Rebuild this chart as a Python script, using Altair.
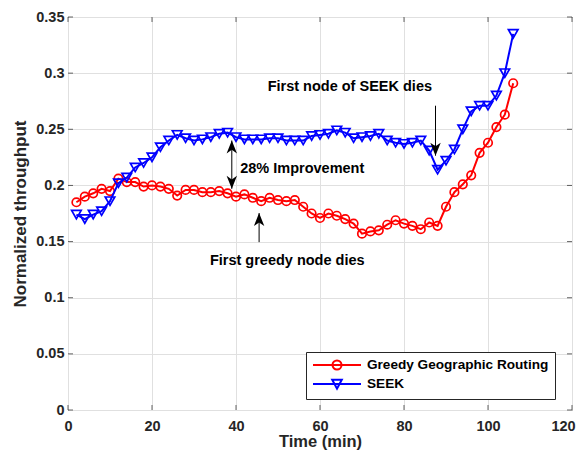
import altair as alt
import pandas as pd

# ---------------- data ----------------
time_min = [2, 4, 6, 8, 10, 12, 14, 16, 18, 20,
            22, 24, 26, 28, 30, 32, 34, 36, 38, 40,
            42, 44, 46, 48, 50, 52, 54, 56, 58, 60,
            62, 64, 66, 68, 70, 72, 74, 76, 78, 80,
            82, 84, 86, 88, 90, 92, 94, 96, 98, 100,
            102, 104, 106]

greedy = [0.185, 0.190, 0.193, 0.197, 0.195, 0.206, 0.203, 0.203, 0.199, 0.200,
          0.199, 0.197, 0.191, 0.196, 0.196, 0.194, 0.194, 0.195, 0.193, 0.190,
          0.192, 0.189, 0.186, 0.189, 0.187, 0.186, 0.187, 0.181, 0.175, 0.171,
          0.175, 0.173, 0.170, 0.166, 0.157, 0.159, 0.160, 0.165, 0.169, 0.166,
          0.164, 0.161, 0.167, 0.164, 0.181, 0.194, 0.201, 0.209, 0.229, 0.238,
          0.252, 0.263, 0.291]

seek = [0.174, 0.170, 0.174, 0.177, 0.186, 0.202, 0.207, 0.216, 0.220, 0.225,
        0.234, 0.240, 0.245, 0.242, 0.240, 0.241, 0.243, 0.246, 0.247, 0.243,
        0.241, 0.241, 0.241, 0.242, 0.242, 0.240, 0.240, 0.240, 0.244, 0.245,
        0.246, 0.249, 0.247, 0.242, 0.243, 0.244, 0.246, 0.240, 0.238, 0.237,
        0.238, 0.240, 0.231, 0.214, 0.222, 0.232, 0.250, 0.266, 0.271, 0.271,
        0.280, 0.300, 0.335]

series_names = ["Greedy Geographic Routing", "SEEK"]
series_colors = ["#ff0000", "#0000ff"]

x_ticks = [0, 20, 40, 60, 80, 100, 120]
y_ticks = [0, 0.05, 0.1, 0.15, 0.2, 0.25, 0.3, 0.35]

ann_text = ["First node of SEEK dies", "28% Improvement", "First greedy node dies"]
ann_x = [67.1, 41.0, 52.2]
ann_y = [0.2877, 0.2146, 0.1327]
ann_align = ["center", "left", "center"]

shaft_x = [87.5, 39.0, 45.5]
shaft_y1 = [0.271, 0.197, 0.1495]
shaft_y2 = [0.2265, 0.240, 0.1754]

head_down_x = [87.5, 39.0]
head_down_y = [0.2265, 0.197]
head_up_x = [39.0, 45.5]
head_up_y = [0.240, 0.1754]

# ---------------- tables ----------------
df = pd.DataFrame({
    "time": time_min * 2,
    "value": greedy + seek,
    "series": [series_names[0]] * len(time_min) + [series_names[1]] * len(time_min),
})
ann_df = pd.DataFrame({"x": ann_x, "y": ann_y, "text": ann_text, "align": ann_align})
shaft_df = pd.DataFrame({"x": shaft_x, "y1": shaft_y1, "y2": shaft_y2})
hd_df = pd.DataFrame({"x": head_down_x, "y": head_down_y})
hu_df = pd.DataFrame({"x": head_up_x, "y": head_up_y})
xt_df = pd.DataFrame({"t": x_ticks})
yt_df = pd.DataFrame({"t": y_ticks})

FONT = "Liberation Sans"
AX = "#262626"
GRID = "#e0e0e0"

xscale = alt.Scale(domain=[0, 120], nice=False, zero=False)
yscale = alt.Scale(domain=[0, 0.35], nice=False, zero=False)

x_axis = alt.Axis(values=x_ticks, title="Time (min)", format="d",
                  labelFont=FONT, labelFontSize=14.5, labelFontWeight="bold", labelColor=AX,
                  titleFont=FONT, titleFontSize=16.5, titleFontWeight="bold", titleColor=AX,
                  tickSize=0, domain=False, grid=True, gridColor=GRID, gridWidth=1,
                  labelPadding=9, titlePadding=1, labelFlush=False,
                  labelOffset={"condition": {"test": "datum.value == 120", "value": -9}, "value": 0})
y_axis = alt.Axis(values=y_ticks, title="Normalized throughput", format=".2~f",
                  labelFont=FONT, labelFontSize=14.5, labelFontWeight="bold", labelColor=AX,
                  titleFont=FONT, titleFontSize=17, titleFontWeight="bold", titleColor=AX,
                  tickSize=0, domain=False, grid=True, gridColor=GRID, gridWidth=1,
                  labelPadding=4, titlePadding=6, labelFlush=False)

base = alt.Chart(df).encode(
    x=alt.X("time:Q", scale=xscale, axis=x_axis),
    y=alt.Y("value:Q", scale=yscale, axis=y_axis),
)

layers = []
shapes = ["circle", "triangle-down"]
sizes = [72, 92]
for name, col, shp, sz in zip(series_names, series_colors, shapes, sizes):
    sub = base.transform_filter(alt.datum.series == name)
    layers.append(sub.mark_line(color=col, strokeWidth=2))
    layers.append(sub.mark_point(shape=shp, size=sz, filled=False, color=col,
                                 strokeWidth=1.7, opacity=1))

# legend (built by Vega-Lite from scales, with line+marker symbols)
leg_circle = "M -1 0 L 7 0 M 3.75 0 A 0.75 0.75 0 1 1 2.25 0 A 0.75 0.75 0 1 1 3.75 0"
leg_tri = "M -1 0 L 7 0 M 2.2 -0.72 L 3.8 -0.72 L 3 0.78 Z"
legend_layer = alt.Chart(df).transform_filter("false").mark_point(
    filled=False, size=144, strokeWidth=2, opacity=1
).encode(
    color=alt.Color("series:N", scale=alt.Scale(domain=series_names, range=series_colors),
                    legend=alt.Legend(title=None)),
    shape=alt.Shape("series:N", scale=alt.Scale(domain=series_names, range=[leg_circle, leg_tri]),
                    legend=alt.Legend(title=None)),
)

# inward ticks
tick_b = alt.Chart(xt_df).mark_tick(orient="vertical", size=5, thickness=1, color=AX, yOffset=-2.5).encode(
    x=alt.X("t:Q", scale=xscale, axis=x_axis), y=alt.datum(0))
tick_t = alt.Chart(xt_df).mark_tick(orient="vertical", size=5, thickness=1, color=AX, yOffset=2.5).encode(
    x=alt.X("t:Q", scale=xscale, axis=x_axis), y=alt.datum(0.35))
tick_l = alt.Chart(yt_df).mark_tick(orient="horizontal", size=5, thickness=1, color=AX, xOffset=2.5).encode(
    y=alt.Y("t:Q", scale=yscale, axis=y_axis), x=alt.datum(0))
tick_r = alt.Chart(yt_df).mark_tick(orient="horizontal", size=5, thickness=1, color=AX, xOffset=-2.5).encode(
    y=alt.Y("t:Q", scale=yscale, axis=y_axis), x=alt.datum(120))

# annotations
ann_layers = []
for al in ["center", "left"]:
    ann_layers.append(
        alt.Chart(ann_df).transform_filter(alt.datum.align == al).mark_text(
            font=FONT, fontSize=14.5, fontWeight="bold", color="black",
            baseline="middle", align=al
        ).encode(
            x=alt.X("x:Q", scale=xscale, axis=x_axis),
            y=alt.Y("y:Q", scale=yscale, axis=y_axis),
            text="text:N",
        )
    )
shafts = alt.Chart(shaft_df).mark_rule(color="black", strokeWidth=1).encode(
    x=alt.X("x:Q", scale=xscale, axis=x_axis),
    y=alt.Y("y1:Q", scale=yscale, axis=y_axis),
    y2="y2:Q",
)
head_down_path = "M 0 0 L -0.4 -1 L 0 -0.72 L 0.4 -1 Z"
head_up_path = "M 0 0 L -0.4 1 L 0 0.72 L 0.4 1 Z"
heads_d = alt.Chart(hd_df).mark_point(shape=head_down_path, size=676, filled=True, color="black",
                                      opacity=1, strokeWidth=0).encode(
    x=alt.X("x:Q", scale=xscale, axis=x_axis), y=alt.Y("y:Q", scale=yscale, axis=y_axis))
heads_u = alt.Chart(hu_df).mark_point(shape=head_up_path, size=676, filled=True, color="black",
                                      opacity=1, strokeWidth=0).encode(
    x=alt.X("x:Q", scale=xscale, axis=x_axis), y=alt.Y("y:Q", scale=yscale, axis=y_axis))

chart = alt.layer(
    *layers, shafts, heads_d, heads_u, *ann_layers, tick_b, tick_t, tick_l, tick_r, legend_layer
).properties(
    width=504, height=393,
    autosize=alt.AutoSizeParams(type="none"),
    padding={"left": 60, "top": 9, "right": 4, "bottom": 41},
    background="white",
).configure_view(
    stroke=AX, strokeWidth=1
).configure_legend(
    orient="none", legendX=238, legendY=335,
    strokeColor=AX, fillColor="white", padding=6, cornerRadius=0,
    symbolSize=144, symbolStrokeWidth=2, symbolFillColor="transparent",
    labelFont=FONT, labelFontSize=13.6, labelFontWeight="bold", labelColor="black",
    labelOffset=41, rowPadding=1, labelLimit=400,
)

chart.save("out.html", embed_options={"renderer": "svg", "actions": False})
